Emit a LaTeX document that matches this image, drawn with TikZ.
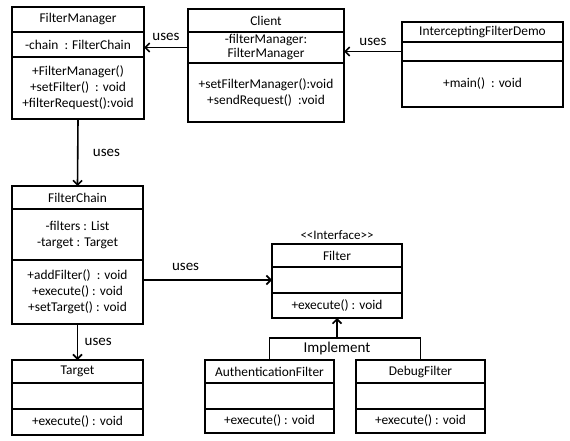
\documentclass[tikz,border=0pt]{standalone}
\usepackage{fontspec}
\setmainfont{Carlito}
\usetikzlibrary{arrows.meta,positioning}

\begin{document}
\begin{tikzpicture}[x=1pt, y=-1pt, line width=1.6pt, >={Straight Barb[length=4.5pt,width=9pt]},
    part/.style={draw, rectangle, outer sep=0pt, inner sep=1pt, align=center, font=\fontsize{13.4}{16}\selectfont},
    lbl/.style={font=\fontsize{15}{18}\selectfont}]
    \useasboundingbox (0,0) rectangle (570,441);

    % FilterManager
    \node (fm) [part, minimum width=132pt, minimum height=25pt, anchor=north west] at (12,7) {FilterManager};
    \node (fm_attr) [part, minimum width=132pt, minimum height=25pt, below=0pt of fm] {-chain \ : FilterChain};
    \node (fm_ops) [part, minimum width=132pt, minimum height=62pt, below=0pt of fm_attr] {+FilterManager()\\+setFilter() \ : void\\+filterRequest():void};

    % Client
    \node (cl) [part, minimum width=156pt, minimum height=23pt, anchor=north west] at (188,9) {Client};
    \node (cl_attr) [part, minimum width=156pt, minimum height=31pt, below=0pt of cl, font=\fontsize{13.4}{14}\selectfont] {-filterManager:\\FilterManager};
    \node (cl_ops) [part, minimum width=156pt, minimum height=59pt, below=0pt of cl_attr] {+setFilterManager():void\\+sendRequest() \ :void};

    % InterceptingFilterDemo
    \node (demo) [part, minimum width=161pt, minimum height=20pt, anchor=north west] at (402,22) {InterceptingFilterDemo};
    \node (demo_attr) [part, minimum width=161pt, minimum height=19pt, below=0pt of demo] {};
    \node (demo_ops) [part, minimum width=161pt, minimum height=46pt, below=0pt of demo_attr] {+main() \ : void};

    % FilterChain
    \node (fc) [part, minimum width=131pt, minimum height=23pt, anchor=north west] at (12,186) {FilterChain};
    \node (fc_attr) [part, minimum width=131pt, minimum height=51pt, below=0pt of fc] {-filters : List\\-target : Target};
    \node (fc_ops) [part, minimum width=131pt, minimum height=64pt, below=0pt of fc_attr] {+addFilter() \ : void\\+execute() : void\\+setTarget() : void};

    % Target
    \node (tg) [part, minimum width=131pt, minimum height=23pt, anchor=north west] at (12,360) {Target};
    \node (tg_attr) [part, minimum width=131pt, minimum height=26pt, below=0pt of tg] {};
    \node (tg_ops) [part, minimum width=131pt, minimum height=26pt, below=0pt of tg_attr] {+execute() : void};

    % Filter interface
    \node (fl) [part, minimum width=130pt, minimum height=23pt, anchor=north west] at (272,244) {Filter};
    \node (fl_attr) [part, minimum width=130pt, minimum height=26pt, below=0pt of fl] {};
    \node (fl_ops) [part, minimum width=130pt, minimum height=25pt, below=0pt of fl_attr] {+execute() : void};
    \node (fl_stereo) [above=0pt of fl, font=\fontsize{13}{15}\selectfont] {<{}<Interface>{}>};

    % AuthenticationFilter
    \node (au) [part, minimum width=129pt, minimum height=23pt, anchor=north west] at (205,360) {AuthenticationFilter};
    \node (au_attr) [part, minimum width=129pt, minimum height=26pt, below=0pt of au] {};
    \node (au_ops) [part, minimum width=129pt, minimum height=24pt, below=0pt of au_attr] {+execute() : void};

    % DebugFilter
    \node (db) [part, minimum width=129pt, minimum height=23pt, anchor=north west] at (356,360) {DebugFilter};
    \node (db_attr) [part, minimum width=129pt, minimum height=26pt, below=0pt of db] {};
    \node (db_ops) [part, minimum width=129pt, minimum height=24pt, below=0pt of db_attr] {+execute() : void};

    % uses
    \draw[->] (cl_attr.west) -- (cl_attr.west -| fm_attr.east) node[midway, above=3pt, lbl] {uses};
    \draw[->] (demo_attr.west) -- (demo_attr.west -| cl_attr.east) node[midway, above=2pt, lbl] {uses};
    \draw[->] (fm_ops.south) -- (fc.north) node[midway, right=11pt, lbl] {uses};
    \draw[->] (fc_ops.south) -- (tg.north) node[midway, right=3pt, lbl] {uses};
    \draw[->] (fl_attr.west -| fc_ops.east) -- (fl_attr.west) node[pos=0.33, above=5pt, lbl] {uses};

    % implement
    \coordinate (impl) at ([yshift=-20pt]fl_ops.south);
    \draw (au.north) |- (impl) -| (db.north);
    \draw[->] (impl) -- (fl_ops.south);
    \node (impl_lbl) [below=0pt of impl, lbl] {Implement};
\end{tikzpicture}
\end{document}
